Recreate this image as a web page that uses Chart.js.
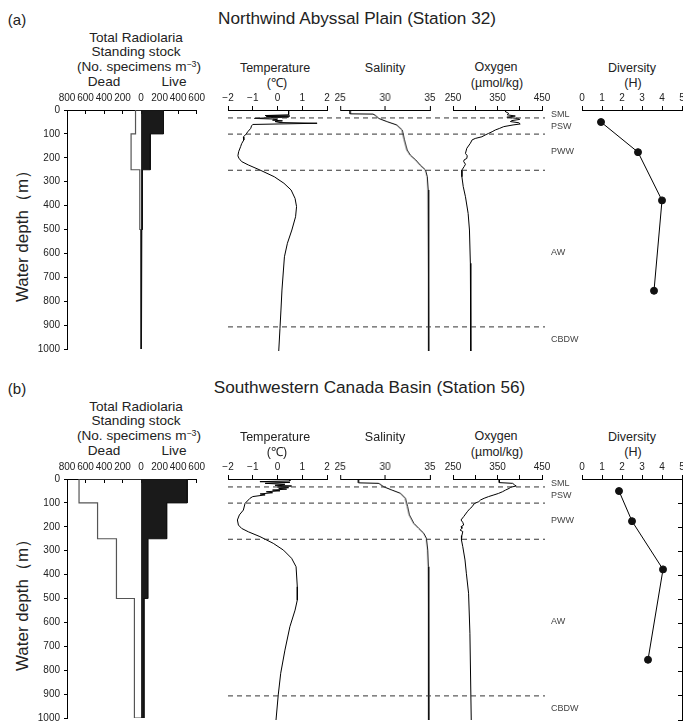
<!DOCTYPE html>
<html>
<head>
<meta charset="utf-8">
<script src="https://cdn.jsdelivr.net/npm/chart.js@4.4.1/dist/chart.umd.min.js"></script>
<style>
  body { margin: 0; width: 683px; height: 724px; overflow: hidden; position: relative; background: #fff;
         font-family: "Liberation Sans", Arial, sans-serif; color: #222; }
  canvas { position: absolute; }
  .lbl { position: absolute; white-space: nowrap; transform: translate(-50%, -50%); line-height: 1; }
  .wm { position: absolute; white-space: nowrap; font-size: 9px; color: #444; transform: translateY(-50%); line-height: 1; }
  .ylab { position: absolute; white-space: nowrap; font-size: 17px; line-height: 1; transform: translate(-50%, -50%) rotate(-90deg); }
  sup { font-size: 0.65em; vertical-align: 0.5em; line-height: 0; }
</style>
</head>
<body>
<script>
// net sample layers (m), mid depths for diversity, water mass boundaries
const layerEdges = [0, 100, 250, 500, 1000];
const diversityDepths = [50, 175, 375, 750];
const boundaryDepths = [33, 100, 250, 900];
const waterMasses = ['SML', 'PSW', 'PWW', 'AW', 'CBDW'];
const waterMassLabelDepths = [15, 65, 172, 590, 952];

// (a) Station 32
const liveA = [242, 99, 14, 8];
const deadA = [60, 108, 14, 5];
const diversityA = [0.95, 2.8, 4.0, 3.6];
const tempDepthA = [0, 20, 23, 25, 27, 29, 32, 35, 38, 42, 45, 48, 52, 55, 60, 66, 76, 90, 100, 112, 124, 140, 152, 173, 190, 200, 214, 228, 249, 277, 304, 332, 367, 401, 443, 498, 553, 609, 664, 747, 830, 906, 1000];
const tempA = [0.45, 0.45, -0.5, 0.5, -0.45, 0.45, -0.3, -0.93, 0.0, -0.2, 0.2, -0.1, 0.1, 1.6, -1.0, -1.05, -1.08, -1.2, -1.27, -1.38, -1.36, -1.45, -1.49, -1.57, -1.6, -1.56, -1.45, -1.18, -0.71, -0.13, 0.26, 0.55, 0.71, 0.77, 0.73, 0.58, 0.4, 0.28, 0.24, 0.18, 0.14, 0.1, 0.05];
const salDepthA = [0, 16, 17, 25, 35, 48, 62, 83, 124, 166, 187, 207, 228, 249, 277, 332, 429, 1000];
const salA = [26.1, 26.1, 28.7, 29.0, 29.3, 30.2, 31.3, 31.9, 32.15, 32.45, 32.8, 33.4, 33.9, 34.5, 34.7, 34.8, 34.85, 34.87];
const oxDepthA = [0, 7, 14, 20, 25, 30, 35, 39, 44, 48, 53, 58, 62, 69, 76, 83, 90, 97, 104, 111, 118, 124, 138, 159, 180, 190, 201, 207, 214, 225, 235, 249, 277, 318, 360, 429, 498, 636, 913, 1000];
const oxA = [368, 368, 375, 372, 390, 371, 395, 400, 382, 379, 398, 401, 385, 364, 355, 345, 338, 330, 322, 315, 300, 293, 289, 281, 278, 282, 281, 275, 274, 278, 275, 270, 270, 273, 278, 284, 287, 289, 290, 290];

// (b) Station 56
const liveB = [498, 276, 72, 31];
const deadB = [670, 470, 266, 72];
const diversityB = [1.85, 2.5, 4.05, 3.3];
const tempDepthB = [0, 8, 11, 14, 18, 22, 26, 29, 33, 36, 39, 42, 46, 49, 53, 57, 62, 66, 73, 80, 101, 129, 149, 170, 191, 205, 219, 239, 267, 295, 329, 364, 447, 502, 544, 613, 710, 806, 896, 1000];
const tempB = [0.5, 0.5, -0.71, 0.5, -0.5, 0.3, -0.1, 0.57, 0.0, 0.45, 0.05, 0.37, -0.2, 0.1, -0.45, -0.2, -0.7, -0.5, -1.0, -1.11, -1.31, -1.38, -1.54, -1.62, -1.58, -1.45, -1.18, -0.71, -0.17, 0.24, 0.57, 0.75, 0.8, 0.8, 0.71, 0.5, 0.3, 0.13, 0.03, -0.06];
const salDepthB = [0, 16, 18, 32, 46, 59, 80, 115, 149, 184, 205, 225, 246, 295, 364, 1000];
const salB = [27.05, 27.05, 29.3, 29.84, 30.77, 31.7, 32.26, 32.5, 32.7, 33.2, 33.75, 34.3, 34.6, 34.75, 34.82, 34.87];
const oxDepthB = [0, 15, 18, 24, 29, 34, 39, 46, 53, 60, 66, 73, 80, 87, 94, 100, 104, 115, 125, 136, 156, 170, 180, 191, 198, 205, 212, 218, 235, 253, 281, 336, 391, 474, 640, 1000];
const oxB = [354, 354, 384, 388, 392, 380, 376, 368, 361, 352, 342, 330, 320, 312, 308, 300, 297, 293, 287, 282, 274, 268, 272, 274, 268, 270, 266, 272, 270, 269, 272, 277, 280, 285, 288, 291];

Chart.defaults.font.family = '"Liberation Sans", Arial, sans-serif';
Chart.defaults.font.size = 10;
Chart.defaults.color = '#222';

const AXIS_H = 25;    // height of the top axes
const PLOT_H = 241;   // 0-1000 m

function addCanvas(left, top, width, height) {
  const c = document.createElement('canvas');
  c.width = width; c.height = height;
  c.style.left = left + 'px'; c.style.top = top + 'px';
  c.style.width = width + 'px'; c.style.height = height + 'px';
  document.body.appendChild(c);
  return c;
}

function text(html, x, y, size, cls) {
  const d = document.createElement('div');
  d.className = cls || 'lbl';
  d.style.left = x + 'px'; d.style.top = y + 'px';
  if (size) d.style.fontSize = size + 'px';
  d.innerHTML = html;
  document.body.appendChild(d);
  return d;
}

function stepOutline(values, sign) {
  const pts = [{x: 0, y: layerEdges[0]}];
  values.forEach((v, i) => {
    pts.push({x: sign * v, y: layerEdges[i]});
    pts.push({x: sign * v, y: layerEdges[i + 1]});
  });
  pts.push({x: 0, y: layerEdges[layerEdges.length - 1]});
  return pts;
}

const baseOpts = {
  responsive: false, animation: false, devicePixelRatio: 1,
  events: [],
  plugins: { legend: { display: false }, tooltip: { enabled: false } }
};

function topAxis(min, max, step, fmt, inward) {
  return {
    type: 'linear', position: 'top', min: min, max: max,
    afterFit: s => { s.height = AXIS_H; },
    ticks: { stepSize: step, callback: fmt, autoSkip: false, maxRotation: 0, padding: inward ? 10 : 2 },
    grid: { drawOnChartArea: false, tickLength: inward ? -4 : 4, color: '#000' },
    border: { color: '#000' }
  };
}

function depthAxis() {
  return { type: 'linear', reverse: true, min: 0, max: 1000, display: false };
}

function stockChart(B, live, dead) {
  new Chart(addCanvas(0, B + 85, 215, AXIS_H + PLOT_H + 8), {
    type: 'line',
    data: { datasets: [
      { data: stepOutline(live, 1), borderColor: '#111', backgroundColor: '#1a1a1a', borderWidth: 1, fill: 'origin', pointRadius: 0 },
      { data: stepOutline(dead, -1), borderColor: '#555', borderWidth: 1.2, fill: false, pointRadius: 0 }
    ]},
    options: Object.assign({}, baseOpts, {
      indexAxis: 'y',
      layout: { padding: { left: 0, right: 11, top: 0, bottom: 8 } },
      scales: {
        x: topAxis(-800, 600, 200, v => Math.abs(v), true),
        y: {
          type: 'linear', reverse: true, min: 0, max: 1000,
          afterFit: s => { s.width = 67; },
          ticks: { stepSize: 100, padding: 4, callback: v => String(v) },
          grid: { drawOnChartArea: false, tickLength: 3, color: '#000' },
          border: { color: '#000' }
        }
      }
    })
  });
}

function profileChart(B, left, width, axis, depths, values, dot, rightBorder) {
  const y = depthAxis();
  if (rightBorder) {
    Object.assign(y, {
      display: true, position: 'right',
      afterFit: s => { s.width = 0; },
      ticks: { display: false, stepSize: 100 },
      grid: { drawOnChartArea: false, tickLength: -4, color: '#000' },
      border: { color: '#000' }
    });
  }
  new Chart(addCanvas(left - 15, B + 85, width + 30, AXIS_H + PLOT_H + 8), {
    type: 'scatter',
    data: { datasets: [{
      data: depths.map((d, i) => ({ x: values[i], y: d })),
      showLine: true, borderColor: '#000', borderWidth: 1,
      pointRadius: dot ? 3.5 : 0, pointBackgroundColor: '#111', pointBorderColor: '#111'
    }]},
    options: Object.assign({}, baseOpts, {
      layout: { padding: { left: 15, right: 15, top: 0, bottom: 8 } },
      scales: { x: axis, y: y }
    })
  });
}

function boundaryLines(B) {
  new Chart(addCanvas(228, B + 85 + AXIS_H, 317, PLOT_H), {
    type: 'scatter',
    data: { datasets: boundaryDepths.map(d => ({
      data: [{ x: 0, y: d }, { x: 1, y: d }],
      showLine: true, borderColor: '#333', borderWidth: 1, borderDash: [5, 4], pointRadius: 0
    }))},
    options: Object.assign({}, baseOpts, {
      layout: { padding: 0 },
      scales: { x: { type: 'linear', min: 0, max: 1, display: false }, y: depthAxis() }
    })
  });
}

const minus = v => v < 0 ? '\u2212' + Math.abs(v) : String(v);

function drawRow(B, tag, title, titleX, d) {
  text(tag, 17, B + 19, 15);
  text(title, titleX, B + 19, 17.2);

  text('Total Radiolaria', 136, B + 38, 13.6);
  text('Standing stock', 136, B + 52, 13.6);
  text('(No. specimens m<sup>\u22123</sup>)', 139, B + 67, 13.6);
  text('Dead', 104, B + 82, 13.6);
  text('Live', 174, B + 82, 13.6);
  text('Water depth\uff08m\uff09', 22, B + 232, 17, 'ylab');

  text('Temperature', 275, B + 68, 12.5);
  text('(\u2103)', 277, B + 83, 12.5);
  text('Salinity', 385, B + 68, 12.5);
  text('Oxygen', 496, B + 67, 12.5);
  text('(\u00b5mol/kg)', 497, B + 83, 12.5);
  text('Diversity', 632, B + 68, 12.5);
  text('(H)', 633, B + 83, 12.5);

  stockChart(B, d.live, d.dead);
  profileChart(B, 228, 99, topAxis(-2, 2, 1, minus), d.tempDepth, d.temp);
  profileChart(B, 340, 89.5, topAxis(25, 35, 5, v => v), d.salDepth, d.sal);
  profileChart(B, 452.7, 89, topAxis(250, 450, 50, v => (v - 250) % 100 === 0 ? v : ''), d.oxDepth, d.ox);
  profileChart(B, 581.7, 100, topAxis(0, 5, 1, v => v), diversityDepths, d.div, true, d.rightBorder);
  boundaryLines(B);

  waterMasses.forEach((w, i) => {
    text(w, 551, B + 85 + AXIS_H + waterMassLabelDepths[i] / 1000 * PLOT_H, 9, 'wm');
  });
}

drawRow(0, '(a)', 'Northwind Abyssal Plain (Station 32)', 357, {
  live: liveA, dead: deadA, div: diversityA, rightBorder: false,
  tempDepth: tempDepthA, temp: tempA, salDepth: salDepthA, sal: salA, oxDepth: oxDepthA, ox: oxA
});
drawRow(369, '(b)', 'Southwestern Canada Basin (Station 56)', 369.5, {
  live: liveB, dead: deadB, div: diversityB, rightBorder: true,
  tempDepth: tempDepthB, temp: tempB, salDepth: salDepthB, sal: salB, oxDepth: oxDepthB, ox: oxB
});
</script>
</body>
</html>
